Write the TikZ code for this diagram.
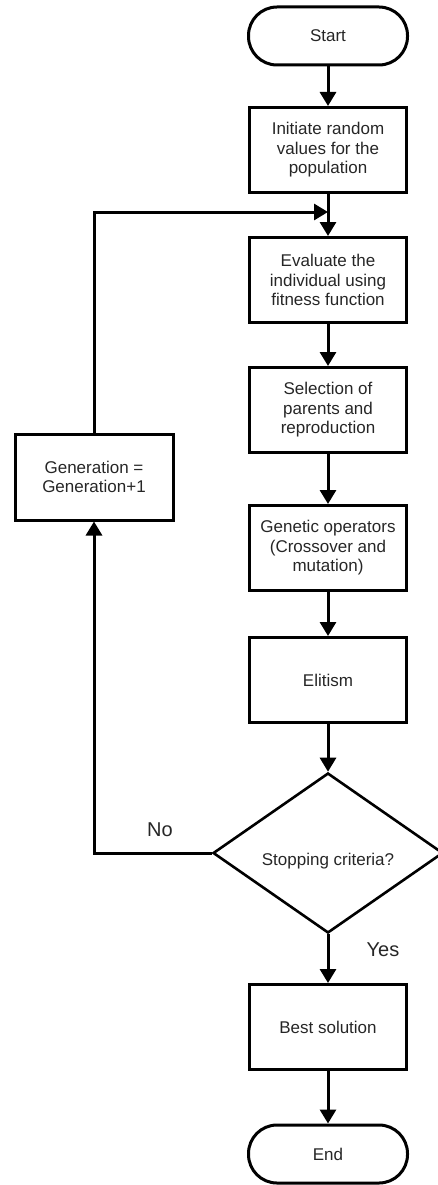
\documentclass[tikz,border=0pt]{standalone}
\usepackage{fontspec}
\setmainfont{Liberation Sans}
\usetikzlibrary{shapes.geometric,arrows.meta}
\begin{document}
\begin{tikzpicture}[x=1pt,y=-1pt,
  every node/.style={font=\fontsize{17}{19.5}\selectfont, text=black!85},
  proc/.style={draw=black, line width=3pt, minimum width=157pt, minimum height=85pt, align=center, inner sep=0pt},
  term/.style={draw=black, line width=3pt, rounded corners=28.5pt, minimum width=159pt, minimum height=58pt, inner sep=0pt},
  dec/.style={draw=black, diamond, line width=2.6pt, minimum width=230pt, minimum height=160pt, inner sep=0pt, aspect=1.44},
  flow/.style={line width=3pt, -{Triangle[width=16pt,length=14pt]}},
  lbl/.style={font=\fontsize{20}{24}\selectfont}
]
\useasboundingbox (0,0) rectangle (438,1185);
\node[term] (start) at (328,36) {Start};
\node[proc] (init) at (328,150) {Initiate random\\values for the\\population};
\node[proc] (eval) at (328,280) {Evaluate the\\individual using\\fitness function};
\node[proc] (sel) at (328,410) {Selection of\\parents and\\reproduction};
\node[proc] (gen) at (328,548) {Genetic operators\\(Crossover and\\mutation)};
\node[proc] (elit) at (328,680) {Elitism};
\node[dec] (dec) at (328,853) {\raisebox{-12pt}[0pt][0pt]{Stopping criteria?}};
\node[proc] (best) at (328,1027) {Best solution};
\node[term] (end) at (328,1154) {End};
\node[proc, minimum width=158pt, minimum height=86pt] (genbox) at (94,477) {Generation =\\Generation+1};
\coordinate (fb) at (328,212);
\node[lbl] (no) at (160,830) {No};
\node[lbl] (yes) at (383,950) {Yes};

\draw[flow] (start) -- (init);
\draw[flow] (init) -- (eval);
\draw[flow] (eval) -- (sel);
\draw[flow] (sel) -- (gen);
\draw[flow] (gen) -- (elit);
\draw[flow] (elit) -- (dec);
\draw[flow] (dec) -- (best);
\draw[flow] (best) -- (end);
\draw[flow] (dec.west) -| (genbox.south);
\draw[flow] (genbox.north) |- (fb);
\end{tikzpicture}
\end{document}
